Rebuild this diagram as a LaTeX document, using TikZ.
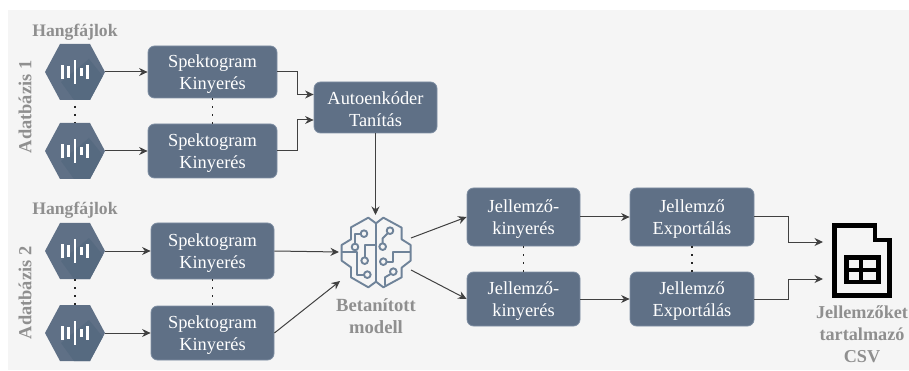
\documentclass[tikz,border=0pt]{standalone}
\usepackage{fontspec}
\setmainfont{Liberation Serif}
\usetikzlibrary{arrows.meta}
\definecolor{boxfill}{HTML}{5F7086}
\definecolor{boxedge}{HTML}{7F8FA3}
\definecolor{hexdark}{HTML}{566A80}
\definecolor{bgc}{HTML}{F5F5F5}
\definecolor{cap}{HTML}{8F8F8F}
\definecolor{brainc}{HTML}{6F8399}
\definecolor{linec}{HTML}{3C3C3C}
\newcommand{\tl}{\rule{0pt}{16.5pt}}
\tikzset{
  x=1pt,y=-1pt,
  procbox/.style={draw=boxedge,line width=0.8pt,fill=boxfill,rounded corners=6.5pt,text=white,align=center,
    inner sep=0pt,font=\fontsize{18.4}{22.5}\selectfont},
  ghost/.style={inner sep=0pt,outer sep=0pt,draw=none},
  captxt/.style={text=cap,align=center,inner sep=0pt,font=\bfseries\fontsize{17.6}{22}\selectfont},
  flow/.style={line width=1pt,-{Stealth[length=8.5pt,width=8pt]},black!75},
  dotsline/.style={line width=1.9pt,black!85,dash pattern=on 1.9pt off 6.1pt},
  brainline/.style={draw=brainc,line width=1.9pt,line join=round}
}
\newcommand{\hexicon}[3]{%
  \node[ghost,minimum width=60pt,minimum height=56pt] (#1) at (#2,#3) {};
  \begin{scope}[shift={(#2,#3)}]
    \fill[boxfill] (-30,0)--(-15,-28)--(15,-28)--(30,0)--(15,28)--(-15,28)--cycle;
    \fill[hexdark] (14,-13)--(27.8,4)--(15,28)--(-1,28)--(-14,10)--cycle;
    \fill[white] (-14,-7) rectangle (-11,7);
    \fill[white] (-8,-6) rectangle (-5,6);
    \fill[white] (-1.2,-12) rectangle (1.4,12);
    \fill[white] (5,-4) rectangle (8,4);
    \fill[white] (11,-7) rectangle (14,7);
  \end{scope}}
\begin{document}
\begin{tikzpicture}
\useasboundingbox (0,0) rectangle (909,371);
\fill[white] (0,0) rectangle (909,371);
\fill[bgc] (8,10) rectangle (909,370);

% captions
\node[captxt] (hf1) at (75,32) {Hangfájlok};
\node[captxt] (hf2) at (75,210) {Hangfájlok};
\node[captxt,rotate=90,font=\bfseries\fontsize{18.4}{22}\selectfont] (db1) at (25,107) {Adatbázis 1};
\node[captxt,rotate=90,font=\bfseries\fontsize{18.4}{22}\selectfont] (db2) at (25,293) {Adatbázis 2};

% hexagons
\hexicon{h1}{75}{72}
\hexicon{h2}{75}{151}
\hexicon{h3}{75}{251}
\hexicon{h4}{75}{333}

% boxes
\node[procbox,minimum width=129pt,minimum height=52pt] (s1) at (212.5,72) {\tl Spektogram\\Kinyerés};
\node[procbox,minimum width=129pt,minimum height=54pt] (s2) at (212.5,151) {\tl Spektogram\\Kinyerés};
\node[procbox,minimum width=123pt,minimum height=56pt] (s3) at (212.5,251) {\tl Spektogram\\Kinyerés};
\node[procbox,minimum width=123pt,minimum height=54pt] (s4) at (212.5,333) {\tl Spektogram\\Kinyerés};
\node[procbox,minimum width=123pt,minimum height=51pt] (ae) at (375.5,107.5) {\tl Autoenkóder\\Tanítás};
\node[procbox,minimum width=113pt,minimum height=58pt] (j1) at (523.5,217) {\tl Jellemző-\\kinyerés};
\node[procbox,minimum width=113pt,minimum height=54pt] (j2) at (523.5,299) {\tl Jellemző-\\kinyerés};
\node[procbox,minimum width=124pt,minimum height=58pt] (e1) at (692,217) {\tl Jellemző\\Exportálás};
\node[procbox,minimum width=124pt,minimum height=54pt] (e2) at (692,299) {\tl Jellemző\\Exportálás};

% brain
\node[ghost,minimum width=74pt,minimum height=74pt] (brain) at (376,252) {};
\begin{scope}[shift={(300,190)},x=0.3333pt,y=-0.3333pt]
  \draw[brainline] (228,100)--(205,83)--(153,112)--(153,148)--(125,165)--(125,212)--(153,232)--(153,262)--(205,292)--(228,275)--(250,292)--(305,262)--(305,233)--(332,212)--(332,165)--(305,148)--(305,113)--(250,83)--cycle;
  \draw[brainline] (228,100)--(228,275);
  \draw[brainline] (192,131) circle (10);
  \draw[brainline] (182,131)--(165,131)--(165,160);
  \draw[brainline] (165,171) circle (10);
  \draw[brainline] (228,165)--(194,165)--(194,202);
  \draw[brainline] (194,212) circle (10);
  \draw[brainline] (125,185)--(172,185)--(172,254)--(192,254);
  \draw[brainline] (202,254) circle (10);
  \draw[brainline] (270,122) circle (10);
  \draw[brainline] (263,130)--(248,145)--(248,160);
  \draw[brainline] (248,170) circle (10);
  \draw[brainline] (250,215) circle (10);
  \draw[brainline] (260,215)--(280,215)--(280,185)--(332,185);
  \draw[brainline] (280,245) circle (10);
  \draw[brainline] (272,252)--(255,262)--(255,287);
\end{scope}
\node[captxt,font=\bfseries\fontsize{18.6}{22}\selectfont] (bm) at (376,316) {Betanított\\modell};

% csv icon
\node[ghost,minimum width=59pt,minimum height=74pt] (csv) at (861.5,260) {};
\draw[black,line width=4.6pt,line join=miter] (834.5,225.5)--(875,225.5)--(875,240)--(889.5,240)--(889.5,295.5)--(834.5,295.5)--cycle;
\fill[black] (844,255) rectangle (881,284);
\fill[bgc] (849,259.5) rectangle (859,267.5);
\fill[bgc] (863,259.5) rectangle (876,267.5);
\fill[bgc] (849,272) rectangle (859,279.5);
\fill[bgc] (863,272) rectangle (876,279.5);
\node[captxt,font=\bfseries\fontsize{18.2}{22}\selectfont] (csvt) at (862,334) {Jellemzőket\\tartalmazó\\CSV};

% dotted links
\draw[dotsline,dash phase=2pt] (h1.south) -- (h2.north);
\draw[dotsline] (s1.south) -- (s2.north);
\draw[dotsline] (h3.south) -- (h4.north);
\draw[dotsline] (s3.south) -- (s4.north);
\draw[dotsline] (j1.south) -- (j2.north);
\draw[dotsline] (e1.south) -- (e2.north);

% connectors
\draw[flow] (h1.east) -- (s1.west);
\draw[flow] (h2.east) -- (s2.west);
\draw[flow] (h3.east) -- (s3.west);
\draw[flow] (h4.east) -- (s4.west);
\coordinate (aein1) at (ae.west |- 0,94.5);
\coordinate (aein2) at (ae.west |- 0,120);
\draw[flow] (s1.east) -- ++(20,0) |- (aein1);
\draw[flow] (s2.east) -- ++(20,0) |- (aein2);
\draw[flow] (ae.south) -- (brain.north -| ae.south);
\coordinate (bin1) at (339,252);
\coordinate (bin2) at (340,281);
\draw[flow] (s3.east) -- (bin1);
\draw[flow] (s4.east) -- (bin2);
\coordinate (bout1) at (411,238);
\coordinate (bout2) at (411,270);
\draw[flow] (bout1) -- (j1.west);
\draw[flow] (bout2) -- (j2.west);
\draw[flow] (j1.east) -- (e1.west);
\draw[flow] (j2.east) -- (e2.west);
\coordinate (cin1) at (823,242);
\coordinate (cin2) at (823,279);
\draw[flow] (e1.east) -- ++(34,0) |- (cin1);
\draw[flow] (e2.east) -- ++(34,0) |- (cin2);
\end{tikzpicture}
\end{document}
